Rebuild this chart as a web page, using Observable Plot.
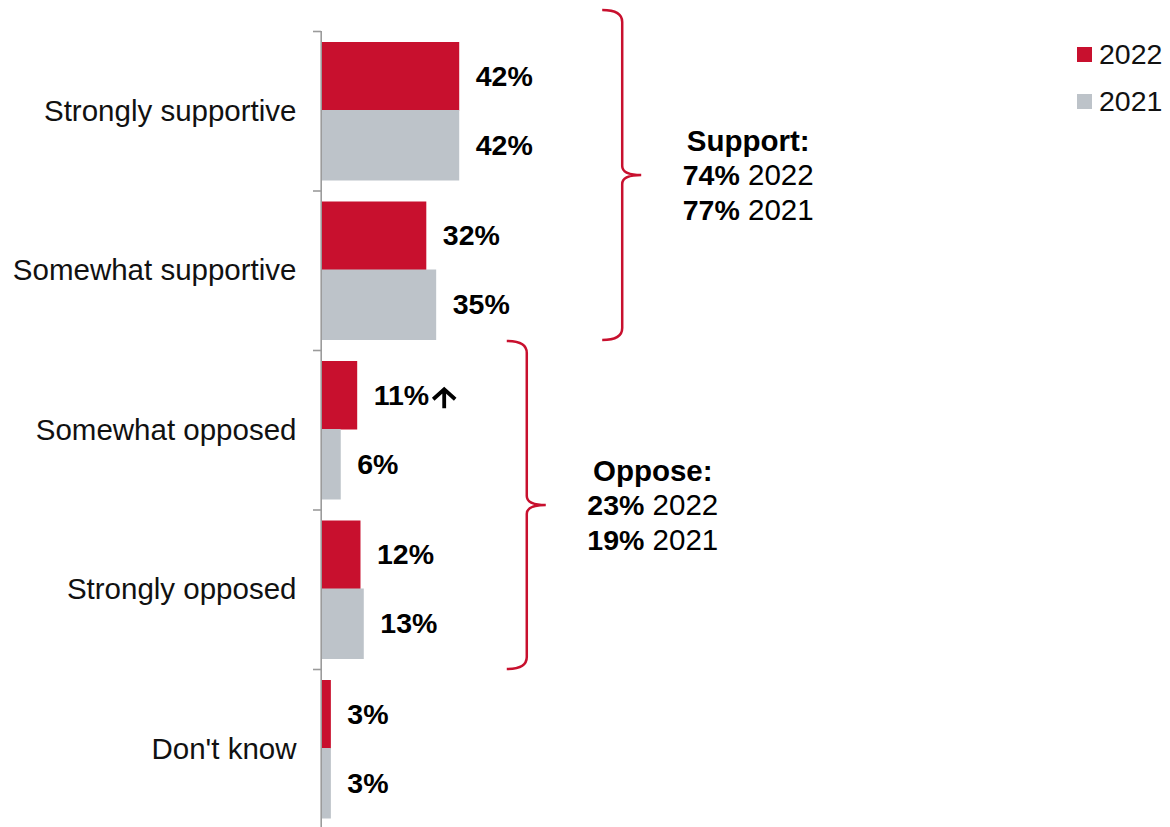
<!DOCTYPE html>
<html>
<head>
<meta charset="utf-8">
<script src="https://cdn.jsdelivr.net/npm/d3@7"></script>
<script src="https://cdn.jsdelivr.net/npm/@observablehq/plot@0.6"></script>
<style>
  html, body { margin: 0; padding: 0; background: #fff; }
  #wrap { position: relative; width: 1170px; height: 827px; font-family: "Liberation Sans", Arial, sans-serif; }
  #wrap svg { position: absolute; left: 0; top: 0; }
  #legend { position: absolute; left: 1077px; top: 31px; font-size: 28.5px; color: #111; }
  #legend .row { display: flex; align-items: center; height: 47px; }
  #legend .sw { width: 15px; height: 15px; margin-right: 7px; }
</style>
</head>
<body>
<div id="wrap"><div id="legend"></div></div>
<script>
// ---- data ----
const categories = ["Strongly supportive", "Somewhat supportive", "Somewhat opposed", "Strongly opposed", "Don't know"];
const years = ["2022", "2021"];
const values2022 = [42, 32, 11, 12, 3];
const values2021 = [42, 35, 6, 13, 3];
const rise2022 = [false, false, true, false, false];
const colors = ["#C8102E", "#BDC3C9"];
const groupNames = ["Support:", "Oppose:"];
const groupFirst = [0, 2];
const groupLast = [1, 3];
const groupTotals2022 = [74, 23];
const groupTotals2021 = [77, 19];

// ---- derived tables ----
const rows = categories.flatMap((c, i) => [
  {category: c, i, year: years[0], value: values2022[i], rise: rise2022[i]},
  {category: c, i, year: years[1], value: values2021[i], rise: false}
]);
const rows2022 = rows.filter(d => d.year === years[0]);
const rows2021 = rows.filter(d => d.year === years[1]);
const groups = groupNames.map((name, k) => ({
  name, first: groupFirst[k], last: groupLast[k],
  t2022: groupTotals2022[k], t2021: groupTotals2021[k],
  max: d3.max(rows.filter(d => d.i >= groupFirst[k] && d.i <= groupLast[k]), d => d.value)
}));

const FONT = "Liberation Sans, Arial, sans-serif";
const RED = colors[0];
// brace layout (pixels)
const braceGap = 163, braceCurl = 20, bracePoint = 19;
const braceTopNudge = [-21, -9], braceBottomNudge = [-10, 0];

function braces(index, scales) {
  const {x, y} = scales;
  const g = d3.create("svg:g");
  groups.forEach((grp, k) => {
    const xv = x(grp.max) + braceGap;
    const xl = xv - braceCurl;
    const xp = xv + bracePoint;
    const yT = y(grp.first) + braceTopNudge[k];
    const yB = y(grp.last + 1) + braceBottomNudge[k];
    const yM = (yT + yB) / 2;
    const r = 12, r2 = 9;
    const p = `M${xl},${yT} Q${xv},${yT} ${xv},${yT + r} L${xv},${yM - r2} Q${xv},${yM} ${xp},${yM} ` +
              `Q${xv},${yM} ${xv},${yM + r2} L${xv},${yB - r} Q${xv},${yB} ${xl},${yB}`;
    g.append("path").attr("d", p).attr("fill", "none").attr("stroke", RED).attr("stroke-width", 2.5);
    const cx = xp + 107;
    const t = g.append("g").attr("font-family", FONT).attr("fill", "#000");
    t.append("text").attr("x", cx).attr("y", yM - 34).attr("text-anchor", "middle")
      .attr("dy", "0.35em").attr("font-weight", "bold").attr("font-size", 29.5).text(grp.name);
    [[grp.t2022, years[0], 0], [grp.t2021, years[1], 35]].forEach(([v, yr, off]) => {
      const line = t.append("text").attr("x", cx).attr("y", yM + off).attr("text-anchor", "middle")
        .attr("dy", "0.35em").attr("font-size", 29.5);
      line.append("tspan").attr("font-weight", "bold").attr("font-size", 28.5).text(`${v}%`);
      line.append("tspan").text(` ${yr}`);
    });
  });
  return g.node();
}

// "significant increase" arrows after the 2022 labels
function riseArrows(index, scales) {
  const {x, y} = scales;
  const g = d3.create("svg:g").attr("stroke", "#000").attr("fill", "none")
    .attr("stroke-width", 3.8).attr("stroke-linejoin", "miter");
  rows2022.filter(d => d.rise).forEach(d => {
    const cx = x(d.value) + 87;
    const cy = y(d.i + 0.5) - 34.5;
    const tip = cy - 6, bottom = cy + 13;
    g.append("path").attr("d",
      `M${cx},${bottom} L${cx},${tip + 1} M${cx - 11},${tip + 10} L${cx},${tip} L${cx + 11},${tip + 10}`);
  });
  return g.node();
}

const chart = Plot.plot({
  width: 1170,
  height: 827,
  marginLeft: 321,
  marginRight: 0,
  marginTop: 31,
  marginBottom: 0,
  style: {fontFamily: FONT, background: "transparent"},
  x: {domain: [0, 258], axis: null},
  y: {domain: [0, 5], range: [31, 828.5], axis: null, label: null},
  marks: [
    Plot.rectX(rows2022, {x1: 0, x2: "value", y1: "i", y2: d => d.i + 1, fill: colors[0], insetTop: 11, insetBottom: 80}),
    Plot.rectX(rows2021, {x1: 0, x2: "value", y1: "i", y2: d => d.i + 1, fill: colors[1], insetTop: 79, insetBottom: 10}),
    Plot.ruleX([0], {y1: 0, y2: 5, stroke: "#9b9b9b", strokeWidth: 1.6, dx: -0.3}),
    Plot.axisY({ticks: d3.range(categories.length + 1), tickSize: 8, tickFormat: () => "", label: null, stroke: "#9b9b9b", strokeWidth: 1.6}),
    Plot.text(categories, {x: () => 0, y: (d, i) => i + 0.5, text: d => d, textAnchor: "end", dx: -25, fontSize: 29.5, fill: "#111"}),
    Plot.text(rows2022, {x: "value", y: d => d.i + 0.5, dy: -34.5, dx: 16, textAnchor: "start",
      text: d => `${d.value}%`, fontWeight: "bold", fontSize: 28.5, fill: "#000"}),
    Plot.text(rows2021, {x: "value", y: d => d.i + 0.5, dy: 34.5, dx: 16, textAnchor: "start",
      text: d => `${d.value}%`, fontWeight: "bold", fontSize: 28.5, fill: "#000"}),
    riseArrows,
    braces
  ]
});
document.getElementById("wrap").prepend(chart);

// legend
const legend = d3.select("#legend");
years.forEach((yr, k) => {
  const row = legend.append("div").attr("class", "row");
  row.append("div").attr("class", "sw").style("background", colors[k]);
  row.append("span").text(yr);
});
</script>
</body>
</html>
